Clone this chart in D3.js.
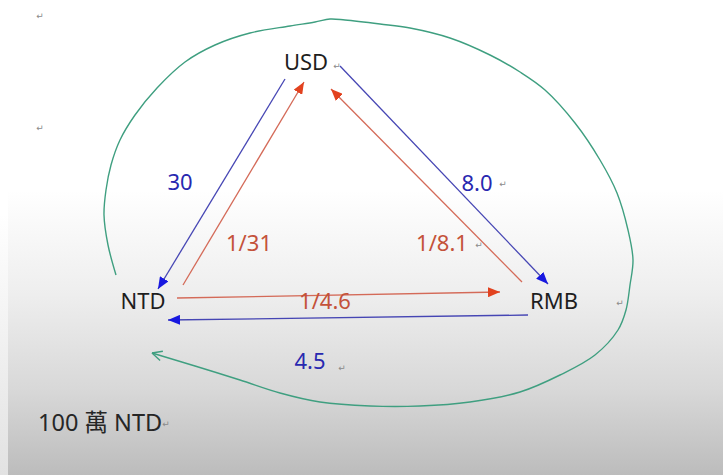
<!DOCTYPE html>
<html>
<head>
<meta charset="utf-8">
<script src="https://cdn.jsdelivr.net/npm/d3@7"></script>
<style>
  html, body { margin: 0; padding: 0; background: #fff; }
  svg { display: block; }
</style>
</head>
<body>
<div id="chart"></div>
<script>
// currencies and the quoted rates between them
const currencies = ['USD', 'NTD', 'RMB'];
const edgeFrom = ['USD', 'NTD', 'USD', 'RMB', 'RMB', 'NTD'];
const edgeTo   = ['NTD', 'USD', 'RMB', 'USD', 'NTD', 'RMB'];
const edgeRate = ['30', '1/31', '8.0', '1/8.1', '4.5', '1/4.6'];
const edgeKind = ['sell', 'buy', 'sell', 'buy', 'sell', 'buy'];
const capital = '100 萬 NTD';

// layout of the hand drawn diagram (diagram units)
const nodePos = {USD: [306, 61], NTD: [143, 300], RMB: [554, 300]};
const edgeEnds = [
    [[285, 79], [158, 289]],
    [[183, 285], [304, 82]],
    [[340, 66], [548, 284]],
    [[522, 282], [331, 89]],
    [[528, 315], [168, 320]],
    [[177, 298], [500, 292]]
];
const labelPos = [[180, 181], [249, 242], [477, 182], [442, 242], [310, 360], [325, 300]];
const loopPath = [
    [116, 275], [108, 245], [104, 215], [106, 190], [111, 165], [120, 140], [135, 115],
    [157, 88], [185, 62], [215, 45], [250, 33], [290, 26], [315, 22], [330, 19], [345, 20],
    [380, 24], [410, 28], [450, 38], [490, 55], [520, 72], [545, 90], [575, 123], [600, 160],
    [617, 193], [628, 230], [633, 260], [630, 285], [626, 310], [618, 330], [595, 355],
    [560, 375], [520, 392], [470, 402], [420, 406], [370, 406], [320, 402], [280, 393],
    [240, 380], [195, 366], [152, 353]
];
const returnMarks = [[40, 16], [40, 128], [337, 66], [503, 184], [479, 245], [342, 368], [620, 303], [166, 424]];

const width = 723, height = 475;
const x = d3.scaleLinear().domain([0, 723]).range([0, width]);
const y = d3.scaleLinear().domain([0, 475]).range([0, height]);
const colors = {
    sell: {line: '#4646b4', head: '#1818e0', text: '#2828b0'},
    buy: {line: '#d46a58', head: '#e2421f', text: '#c4523a'}
};

const svg = d3.select('#chart').append('svg')
    .attr('width', width)
    .attr('height', height);

const defs = svg.append('defs');
function vGrad(id, stops) {
    const g = defs.append('linearGradient')
        .attr('id', id)
        .attr('x1', 0).attr('y1', 0).attr('x2', 0).attr('y2', 1);
    stops.forEach(([o, c]) => g.append('stop').attr('offset', o).attr('stop-color', c));
}
vGrad('bg', [[0, '#ffffff'], [0.4, '#ffffff'], [0.62, '#eeeeee'], [0.82, '#d8d8d8'], [1, '#bcbcbc']]);
vGrad('edge', [[0, '#ffffff'], [0.45, '#ffffff'], [1, '#e2e2e2']]);

Object.keys(colors).forEach(k => {
    defs.append('marker')
        .attr('id', 'head-' + k)
        .attr('markerUnits', 'userSpaceOnUse')
        .attr('viewBox', '0 0 12 10')
        .attr('refX', 12).attr('refY', 5)
        .attr('markerWidth', 12).attr('markerHeight', 10)
        .attr('orient', 'auto')
        .append('path')
        .attr('d', 'M0,0 L12,5 L0,10 Z')
        .attr('fill', colors[k].head);
});

svg.append('rect')
    .attr('width', width)
    .attr('height', height)
    .attr('fill', 'url(#bg)');
svg.append('rect')
    .attr('width', 8)
    .attr('height', height)
    .attr('fill', 'url(#edge)');

// green loop round the triangle, ending back at NTD
const line = d3.line()
    .x(d => x(d[0]))
    .y(d => y(d[1]))
    .curve(d3.curveCatmullRom);

svg.append('path')
    .attr('d', line(loopPath))
    .attr('fill', 'none')
    .attr('stroke', '#3f9f80')
    .attr('stroke-width', 1.4);

const tip = loopPath[loopPath.length - 1];
const prev = loopPath[loopPath.length - 2];
const ang = Math.atan2(tip[1] - prev[1], tip[0] - prev[0]);
[-0.45, 0.45].forEach(a => {
    svg.append('line')
        .attr('x1', x(tip[0])).attr('y1', y(tip[1]))
        .attr('x2', x(tip[0] - 11 * Math.cos(ang + a)))
        .attr('y2', y(tip[1] - 11 * Math.sin(ang + a)))
        .attr('stroke', '#3f9f80')
        .attr('stroke-width', 1.4);
});

// exchange arrows
const edges = edgeRate.map((r, i) => ({
    from: edgeFrom[i], to: edgeTo[i], rate: r, kind: edgeKind[i],
    ends: edgeEnds[i], label: labelPos[i]
}));

svg.selectAll('line.edge')
    .data(edges)
    .enter()
    .append('line')
    .attr('class', 'edge')
    .attr('x1', d => x(d.ends[0][0])).attr('y1', d => y(d.ends[0][1]))
    .attr('x2', d => x(d.ends[1][0])).attr('y2', d => y(d.ends[1][1]))
    .attr('stroke', d => colors[d.kind].line)
    .attr('stroke-width', 1.3)
    .attr('marker-end', d => `url(#head-${d.kind})`);

svg.selectAll('text.rate')
    .data(edges)
    .enter()
    .append('text')
    .attr('class', 'rate')
    .attr('x', d => x(d.label[0]))
    .attr('y', d => y(d.label[1]))
    .attr('text-anchor', 'middle')
    .attr('dominant-baseline', 'central')
    .attr('font-family', '"Noto Sans", sans-serif')
    .attr('font-size', 22)
    .attr('fill', d => colors[d.kind].text)
    .text(d => d.rate);

svg.selectAll('text.node')
    .data(currencies)
    .enter()
    .append('text')
    .attr('class', 'node')
    .attr('x', d => x(nodePos[d][0]))
    .attr('y', d => y(nodePos[d][1]))
    .attr('text-anchor', 'middle')
    .attr('dominant-baseline', 'central')
    .attr('font-family', '"Noto Sans", sans-serif')
    .attr('font-size', 22)
    .attr('fill', '#1e1e1e')
    .text(d => d);

svg.append('text')
    .attr('x', x(38))
    .attr('y', y(422))
    .attr('dominant-baseline', 'central')
    .attr('font-family', '"Noto Sans", "Noto Sans CJK TC", sans-serif')
    .attr('font-size', 23.5)
    .attr('fill', '#262626')
    .text(capital);

// paragraph marks left from the word processor
svg.selectAll('text.ret')
    .data(returnMarks)
    .enter()
    .append('text')
    .attr('class', 'ret')
    .attr('x', d => x(d[0]))
    .attr('y', d => y(d[1]))
    .attr('text-anchor', 'middle')
    .attr('dominant-baseline', 'central')
    .attr('font-family', '"DejaVu Sans", sans-serif')
    .attr('font-size', 9)
    .attr('fill', '#8a8a8a')
    .text('\u21b5');
</script>
</body>
</html>
